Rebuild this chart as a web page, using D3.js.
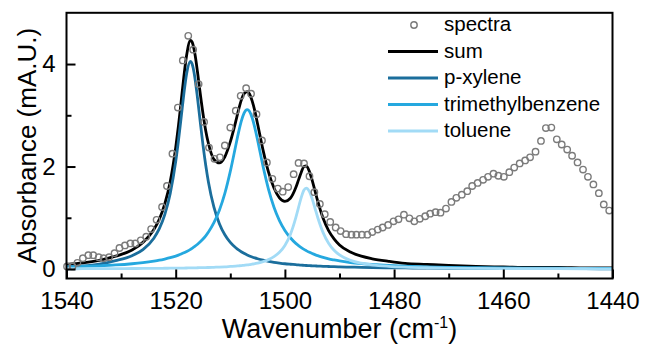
<!DOCTYPE html>
<html>
<head>
<meta charset="utf-8">
<script src="https://cdn.jsdelivr.net/npm/d3@7"></script>
<style>
  body { margin: 0; background: #fff; }
  svg { display: block; font-family: "Liberation Sans", Arial, sans-serif; }
</style>
</head>
<body>
<div class="container"></div>
<script>
// measured spectrum (open circles)
const specWn = [
    1539.9, 1538.9, 1538.0, 1537.0, 1536.0, 1535.1, 1534.1, 1533.2, 1532.2, 1531.2,
    1530.3, 1529.3, 1528.3, 1527.4, 1526.4, 1525.4, 1524.5, 1523.5, 1522.5, 1521.6,
    1520.6, 1519.6, 1518.7, 1517.7, 1516.8, 1515.8, 1514.8, 1513.9, 1512.9, 1511.9,
    1511.0, 1510.0, 1509.0, 1508.1, 1507.1, 1506.2, 1505.2, 1504.2, 1503.3, 1502.3,
    1501.3, 1500.4, 1499.4, 1498.4, 1497.5, 1496.5, 1495.5, 1494.6, 1493.6, 1492.7,
    1491.7, 1490.7, 1489.8, 1488.8, 1487.8, 1486.9, 1485.9, 1484.9, 1484.0, 1483.0,
    1482.1, 1481.1, 1480.1, 1479.2, 1478.2, 1477.2, 1476.3, 1475.3, 1474.3, 1473.4,
    1472.4, 1471.5, 1470.5, 1469.5, 1468.6, 1467.6, 1466.6, 1465.7, 1464.7, 1463.7,
    1462.8, 1461.8, 1460.9, 1459.9, 1458.9, 1458.0, 1457.0, 1456.0, 1455.1, 1454.1,
    1453.1, 1452.2, 1451.2, 1450.2, 1449.3, 1448.3, 1447.4, 1446.4, 1445.4, 1444.5,
    1443.5, 1442.5, 1441.6, 1440.6
];
const specAbs = [
    0.05, 0.05, 0.12, 0.21, 0.27, 0.27, 0.23, 0.21, 0.23, 0.31,
    0.41, 0.46, 0.50, 0.50, 0.56, 0.63, 0.78, 0.96, 1.21, 1.62,
    2.25, 3.15, 4.07, 4.55, 4.28, 3.61, 2.87, 2.37, 2.15, 2.18,
    2.41, 2.76, 3.09, 3.38, 3.53, 3.42, 3.02, 2.51, 2.08, 1.76,
    1.57, 1.51, 1.60, 1.85, 2.07, 2.06, 1.81, 1.50, 1.27, 1.07,
    0.92, 0.81, 0.74, 0.68, 0.67, 0.67, 0.67, 0.67, 0.72, 0.77,
    0.81, 0.86, 0.93, 0.97, 1.06, 0.99, 0.93, 0.98, 1.03, 1.08,
    1.11, 1.10, 1.18, 1.31, 1.39, 1.45, 1.52, 1.62, 1.68, 1.74,
    1.80, 1.86, 1.82, 1.80, 1.89, 1.98, 2.06, 2.12, 2.18, 2.29,
    2.50, 2.75, 2.76, 2.53, 2.43, 2.33, 2.21, 2.08, 1.94, 1.80,
    1.65, 1.48, 1.26, 1.14
];

// fitted curves
const fitWn = [
    1540, 1537, 1534, 1531, 1528, 1526, 1524, 1523, 1522, 1521,
    1520, 1519.5, 1519, 1518.5, 1518, 1517.3, 1517, 1516.5, 1516, 1515.5,
    1515, 1514.5, 1514, 1513, 1512, 1511, 1510, 1509, 1508.5, 1508,
    1507.5, 1506.9, 1506.5, 1506, 1505.5, 1505, 1504, 1503, 1502, 1501,
    1500, 1499, 1498, 1497.5, 1497, 1496.5, 1496.1, 1495.5, 1495, 1494.5,
    1494, 1493, 1492, 1491, 1490, 1488, 1486, 1484, 1481, 1478,
    1474, 1470, 1465, 1460, 1455, 1450, 1445, 1440
];
const sumAbs = [
    0.09, 0.12, 0.17, 0.25, 0.37, 0.52, 0.77, 0.97, 1.27, 1.71,
    2.37, 2.79, 3.27, 3.76, 4.17, 4.46, 4.43, 4.21, 3.84, 3.42,
    3.03, 2.70, 2.45, 2.14, 2.07, 2.19, 2.48, 2.88, 3.10, 3.29,
    3.42, 3.46, 3.42, 3.28, 3.08, 2.83, 2.32, 1.89, 1.58, 1.39,
    1.32, 1.38, 1.59, 1.74, 1.89, 2.00, 2.01, 1.90, 1.73, 1.53,
    1.33, 0.99, 0.75, 0.59, 0.47, 0.33, 0.25, 0.20, 0.15, 0.11,
    0.09, 0.07, 0.05, 0.04, 0.03, 0.03, 0.02, 0.02
];
const xyleneAbs = [
    0.045, 0.06, 0.095, 0.162, 0.26, 0.38, 0.602, 0.787, 1.061, 1.475,
    2.098, 2.504, 2.959, 3.422, 3.812, 4.05, 4.004, 3.744, 3.332, 2.866,
    2.418, 2.025, 1.695, 1.206, 0.884, 0.668, 0.519, 0.414, 0.372, 0.337,
    0.306, 0.274, 0.255, 0.234, 0.216, 0.2, 0.172, 0.15, 0.131, 0.116,
    0.103, 0.093, 0.084, 0.079, 0.076, 0.072, 0.069, 0.066, 0.063, 0.06,
    0.058, 0.053, 0.049, 0.045, 0.042, 0.037, 0.032, 0.028, 0.024, 0.021,
    0.017, 0.014, 0.012, 0.01, 0.008, 0.007, 0.006, 0.005
];
const tmbAbs = [
    0.043, 0.051, 0.063, 0.079, 0.103, 0.125, 0.154, 0.172, 0.195, 0.221,
    0.253, 0.272, 0.293, 0.316, 0.342, 0.383, 0.404, 0.441, 0.483, 0.531,
    0.585, 0.648, 0.721, 0.903, 1.148, 1.477, 1.906, 2.411, 2.662, 2.881,
    3.038, 3.11, 3.078, 2.953, 2.755, 2.514, 2.003, 1.555, 1.206, 0.946,
    0.753, 0.61, 0.501, 0.457, 0.418, 0.383, 0.359, 0.326, 0.302, 0.28,
    0.261, 0.227, 0.199, 0.177, 0.157, 0.127, 0.105, 0.088, 0.069, 0.056,
    0.043, 0.034, 0.027, 0.021, 0.018, 0.015, 0.012, 0.011
];
const tolueneAbs = [
    0.005, 0.006, 0.007, 0.008, 0.01, 0.011, 0.013, 0.014, 0.015, 0.016,
    0.017, 0.018, 0.019, 0.019, 0.02, 0.022, 0.022, 0.023, 0.025, 0.026,
    0.027, 0.029, 0.03, 0.034, 0.038, 0.043, 0.05, 0.057, 0.062, 0.067,
    0.073, 0.08, 0.086, 0.095, 0.104, 0.116, 0.144, 0.183, 0.241, 0.326,
    0.46, 0.674, 1.002, 1.203, 1.399, 1.541, 1.58, 1.511, 1.369, 1.191,
    1.011, 0.71, 0.503, 0.366, 0.275, 0.169, 0.113, 0.08, 0.053, 0.037,
    0.025, 0.018, 0.013, 0.009, 0.007, 0.006, 0.005, 0.004
];

const lineNames = ['sum', 'p-xylene', 'trimethylbenzene', 'toluene'];
const lineValues = [sumAbs, xyleneAbs, tmbAbs, tolueneAbs];
const lineColors = ['#000000', '#1b6e9c', '#25a8df', '#a2dbf6'];

const xMajorTicks = [1540, 1520, 1500, 1480, 1460, 1440];
const xMinorTicks = [1530, 1510, 1490, 1470, 1450];
const yMajorTicks = [0, 2, 4];
const yMinorTicks = [1, 3];

const w = 645;
const h = 347;

const margin = {
    top: 12.8,
    right: 32.5,
    bottom: 68.5,
    left: 66.5
};

const svg = d3.select('.container')
    .append('svg')
    .attr('width', w)
    .attr('height', h)
    .attr('viewBox', [0, 0, w, h]);

const x = d3.scaleLinear()
    .domain([1540, 1440])
    .range([margin.left, w - margin.right]);

const y = d3.scaleLinear()
    .domain([-0.185, 5])
    .range([h - margin.bottom, margin.top]);

svg.append('clipPath')
    .attr('id', 'plot-clip')
    .append('rect')
    .attr('x', margin.left)
    .attr('y', margin.top)
    .attr('width', w - margin.left - margin.right)
    .attr('height', h - margin.top - margin.bottom);

// fitted lines
const line = d3.line()
    .x(d => x(d[0]))
    .y(d => y(d[1]))
    .curve(d3.curveMonotoneX);

svg.append('g')
    .attr('clip-path', 'url(#plot-clip)')
    .selectAll('path')
    .data(lineValues)
    .join('path')
    .attr('fill', 'none')
    .attr('stroke', (d, i) => lineColors[i])
    .attr('stroke-width', 2.8)
    .attr('stroke-linejoin', 'round')
    .attr('d', vals => line(fitWn.map((wn, i) => [wn, vals[i]])));

// spectrum points
svg.append('g')
    .selectAll('circle')
    .data(specWn.map((wn, i) => [wn, specAbs[i]]))
    .join('circle')
    .attr('cx', d => x(d[0]))
    .attr('cy', d => y(d[1]))
    .attr('r', 3.2)
    .attr('fill', 'none')
    .attr('stroke', '#7b7b7b')
    .attr('stroke-width', 1.4);

// axes, ticks pointing inward
const xAxis = svg.append('g')
    .attr('transform', `translate(0,${h - margin.bottom})`)
    .call(d3.axisBottom(x).tickValues(xMajorTicks).tickSize(-9).tickPadding(13).tickFormat(d3.format('d')));
svg.append('g')
    .attr('transform', `translate(0,${h - margin.bottom})`)
    .call(d3.axisBottom(x).tickValues(xMinorTicks).tickSize(-5).tickFormat(''));

const yAxis = svg.append('g')
    .attr('transform', `translate(${margin.left},0)`)
    .call(d3.axisLeft(y).tickValues(yMajorTicks).tickSize(-9).tickPadding(11).tickFormat(d3.format('d')));
svg.append('g')
    .attr('transform', `translate(${margin.left},0)`)
    .call(d3.axisLeft(y).tickValues(yMinorTicks).tickSize(-5).tickFormat(''));

svg.selectAll('.domain').remove();
svg.selectAll('.tick line').attr('stroke', '#000').attr('stroke-width', 2);
svg.selectAll('.tick text')
    .attr('fill', '#000')
    .style('font-size', '24px')
    .style('font-family', '"Liberation Sans", Arial, sans-serif');

// frame
svg.append('rect')
    .attr('x', margin.left)
    .attr('y', margin.top)
    .attr('width', w - margin.left - margin.right)
    .attr('height', h - margin.top - margin.bottom)
    .attr('fill', 'none')
    .attr('stroke', '#000')
    .attr('stroke-width', 2);

// axis titles
const xTitle = svg.append('text')
    .attr('x', (margin.left + w - margin.right) / 2)
    .attr('y', 338)
    .attr('text-anchor', 'middle')
    .style('font-size', '27px');
xTitle.append('tspan').text('Wavenumber (cm');
xTitle.append('tspan').attr('dy', -10).style('font-size', '16px').text('-1');
xTitle.append('tspan').attr('dy', 10).text(')');

svg.append('text')
    .attr('transform', `translate(35.5,${(margin.top + h - margin.bottom) / 2}) rotate(-90)`)
    .attr('text-anchor', 'middle')
    .style('font-size', '26px')
    .text('Absorbance (mA.U.)');

// legend
const legend = svg.append('g').style('font-size', '20.5px');
const rowH = 26.5;
const legY = 25;

legend.append('circle')
    .attr('cx', 414)
    .attr('cy', legY)
    .attr('r', 3.2)
    .attr('fill', 'none')
    .attr('stroke', '#7b7b7b')
    .attr('stroke-width', 1.4);
legend.append('text')
    .attr('x', 444)
    .attr('y', legY + 6)
    .text('spectra');

lineNames.forEach((name, i) => {
    const yy = legY + rowH * (i + 1);
    legend.append('line')
        .attr('x1', 388)
        .attr('x2', 438)
        .attr('y1', yy)
        .attr('y2', yy)
        .attr('stroke', lineColors[i])
        .attr('stroke-width', 2.8);
    legend.append('text')
        .attr('x', 444)
        .attr('y', yy + 6)
        .text(name);
});
</script>
</body>
</html>
